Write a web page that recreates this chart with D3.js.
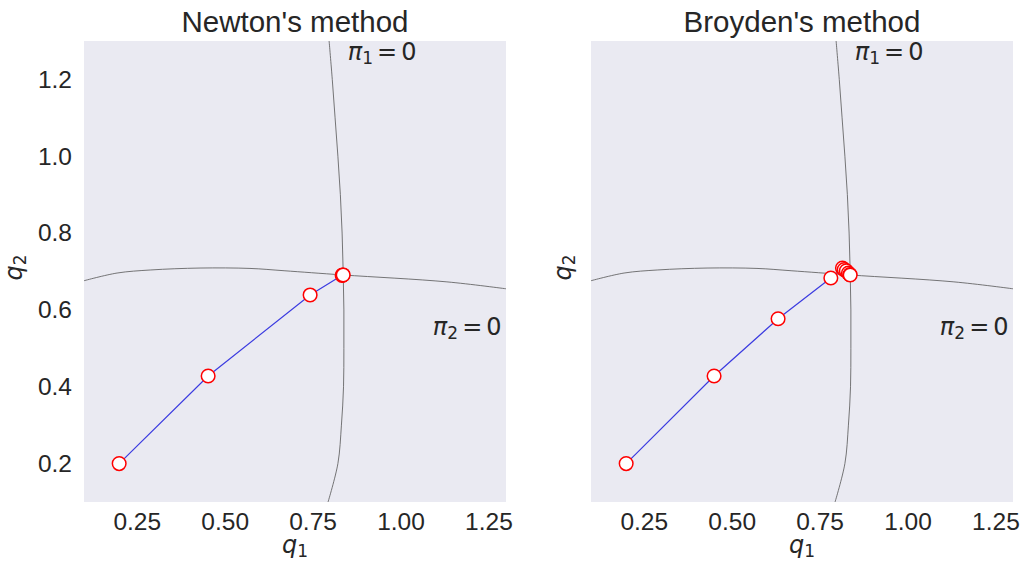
<!DOCTYPE html>
<html><head><meta charset="utf-8">
<script src="https://cdn.jsdelivr.net/npm/d3@7"></script>
<style>body{margin:0;background:#fff}</style>
</head><body>
<svg id="chart" width="1029" height="573"></svg>
<script>
const xTicks = [0.25, 0.50, 0.75, 1.00, 1.25];
const yTicks = [0.2, 0.4, 0.6, 0.8, 1.0, 1.2];
const titles = ["Newton's method", "Broyden's method"];
// curve pi1 = 0 (q1, q2)
const pi1Curve = [[0.797,1.30],[0.806,1.2],[0.814,1.1],[0.822,1.0],[0.829,0.9],[0.834,0.8],[0.837,0.7],[0.839,0.6],[0.839,0.5],[0.838,0.4],[0.832,0.3],[0.822,0.2],[0.794,0.1]];
// curve pi2 = 0 (q1, q2)
const pi2Curve = [[0.1,0.676],[0.194,0.696],[0.290,0.704],[0.430,0.709],[0.572,0.708],[0.669,0.702],[0.836,0.691],[1.132,0.673],[1.30,0.655]];
const newtonPath = [[0.2,0.2],[0.453,0.428],[0.743,0.639],[0.834,0.690],[0.836,0.691],[0.837,0.691]];
const broydenPath = [[0.2,0.2],[0.45,0.428],[0.632,0.577],[0.782,0.683],[0.815,0.709],[0.820,0.705],[0.826,0.702],[0.832,0.696],[0.836,0.692],[0.837,0.691]];

const svg = d3.select("#chart");
const panels = [{x0:84, path:newtonPath, yTicks:true, ylabOff:62}, {x0:591, path:broydenPath, yTicks:false, ylabOff:20}];
const W = 422, plotTop = 41, plotBottom = 502;
const txt = "#262626";
const sans = "'Liberation Sans', Arial, sans-serif";
const math = "'DejaVu Sans', sans-serif";

function mathLabel(sel, sym, sub, rest) {
  sel.append("tspan").attr("font-style", "italic").text(sym);
  sel.append("tspan").attr("font-size", 17).attr("dy", 4).text(sub);
  if (rest) {
    sel.append("tspan").attr("dy", -4).attr("dx", 4).text("=");
    sel.append("tspan").attr("dx", 4).text("0");
  }
}

panels.forEach((p, i) => {
  const x = d3.scaleLinear().domain([0.1, 1.3]).range([p.x0, p.x0 + W]);
  const y = d3.scaleLinear().domain([0.1, 1.3]).range([plotBottom, plotTop]);
  const g = svg.append("g");
  const clipId = "clip" + i;
  svg.append("clipPath").attr("id", clipId).append("rect")
    .attr("x", p.x0).attr("y", plotTop).attr("width", W).attr("height", plotBottom - plotTop);
  g.append("rect").attr("x", p.x0).attr("y", plotTop).attr("width", W).attr("height", plotBottom - plotTop).attr("fill", "#EAEAF2");

  const line = d3.line().x(d => x(d[0])).y(d => y(d[1]));
  const smooth = d3.line().x(d => x(d[0])).y(d => y(d[1])).curve(d3.curveCatmullRom);
  const cg = g.append("g").attr("clip-path", `url(#${clipId})`);
  cg.append("path").attr("d", smooth(pi1Curve)).attr("fill", "none").attr("stroke", "#555").attr("stroke-width", 0.8);
  cg.append("path").attr("d", smooth(pi2Curve)).attr("fill", "none").attr("stroke", "#555").attr("stroke-width", 0.8);
  cg.append("path").attr("d", line(p.path)).attr("fill", "none").attr("stroke", "#3b3be0").attr("stroke-width", 1.2);
  cg.selectAll("circle").data(p.path).enter().append("circle")
    .attr("cx", d => x(d[0])).attr("cy", d => y(d[1])).attr("r", 6.8)
    .attr("fill", "white").attr("stroke", "red").attr("stroke-width", 1.5);

  const xa = g.append("g").attr("transform", `translate(0,${plotBottom})`)
    .call(d3.axisBottom(x).tickValues(xTicks).tickFormat(d3.format(".2f")).tickSize(0).tickPadding(11));
  xa.select(".domain").remove();
  xa.selectAll("text").attr("font-family", sans).attr("font-size", 24.5).attr("fill", txt);
  if (p.yTicks) {
    const ya = g.append("g").attr("transform", `translate(${p.x0},0)`)
      .call(d3.axisLeft(y).tickValues(yTicks).tickFormat(d3.format(".1f")).tickSize(0).tickPadding(12));
    ya.select(".domain").remove();
    ya.selectAll("text").attr("font-family", sans).attr("font-size", 24.5).attr("fill", txt);
  }

  g.append("text").attr("x", p.x0 + W / 2).attr("y", 32).attr("text-anchor", "middle")
    .attr("font-family", sans).attr("font-size", 29.5).attr("fill", txt).text(titles[i]);

  const xl = g.append("text").attr("x", p.x0 + W / 2).attr("y", 553).attr("text-anchor", "middle")
    .attr("font-family", math).attr("font-size", 24).attr("fill", txt);
  mathLabel(xl, "q", "1", false);
  const yl = g.append("text").attr("transform", `translate(${p.x0 - p.ylabOff},${(plotTop + plotBottom) / 2 - 4}) rotate(-90)`)
    .attr("text-anchor", "middle").attr("font-family", math).attr("font-size", 24).attr("fill", txt);
  mathLabel(yl, "q", "2", false);

  const t1 = g.append("text").attr("x", x(0.85)).attr("y", y(1.25)).attr("font-family", math).attr("font-size", 24).attr("fill", txt);
  mathLabel(t1, "π", "1", true);
  const t2 = g.append("text").attr("x", x(1.092)).attr("y", y(0.535)).attr("font-family", math).attr("font-size", 24).attr("fill", txt);
  mathLabel(t2, "π", "2", true);
});
</script>
</body></html>
